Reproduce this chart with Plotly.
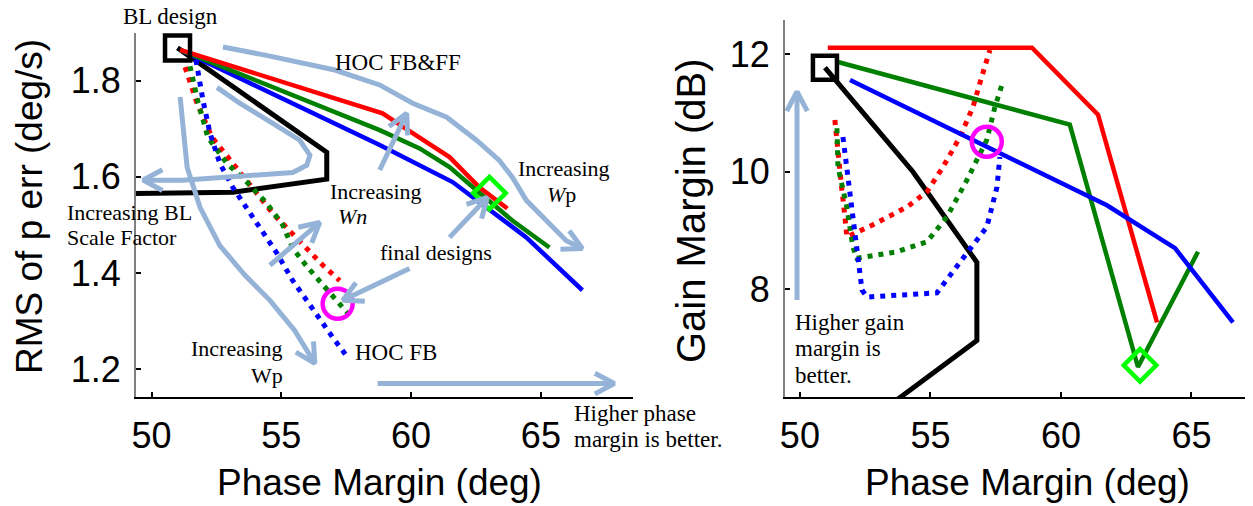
import math
import plotly.graph_objects as go

W, H = 1253, 506

# ---------------- Left panel: phase margin vs RMS of p err ----------------
pm_range_l = [49.40, 68.55]
rms_range = [1.142, 1.899]

bl_pm = [51.0, 56.75, 56.75, 53.14, 49.2]
bl_rms = [1.868, 1.651, 1.595, 1.568, 1.565]

ff_red_pm = [51.1, 58.9, 60.06, 61.48, 62.63, 63.71]
ff_red_rms = [1.864, 1.732, 1.691, 1.641, 1.578, 1.534]
ff_green_pm = [51.1, 58.79, 60.33, 61.48, 62.52, 63.9, 65.33]
ff_green_rms = [1.864, 1.697, 1.659, 1.620, 1.572, 1.509, 1.453]
ff_blue_pm = [51.1, 58.79, 61.6, 62.52, 64.44, 66.6]
ff_blue_rms = [1.864, 1.666, 1.589, 1.551, 1.474, 1.364]

fb_red_pm = [51.29, 51.75, 52.33, 53.02, 53.9, 54.67, 55.44, 56.02, 56.6, 57.25]
fb_red_rms = [1.828, 1.753, 1.682, 1.634, 1.576, 1.524, 1.482, 1.447, 1.416, 1.384]
fb_green_pm = [51.48, 51.79, 52.17, 52.9, 53.67, 54.44, 55.06, 55.44, 56.02, 56.56, 57.17, 57.71]
fb_green_rms = [1.830, 1.755, 1.682, 1.628, 1.589, 1.545, 1.499, 1.451, 1.411, 1.378, 1.339, 1.307]
fb_blue_pm = [51.71, 51.98, 52.25, 52.63, 53.13, 53.79, 54.29, 54.83, 55.44, 55.98, 56.48, 56.98, 57.56]
fb_blue_rms = [1.843, 1.759, 1.691, 1.628, 1.578, 1.524, 1.482, 1.441, 1.384, 1.343, 1.301, 1.266, 1.224]

bl_mark_l = (51.0, 1.868)
fb_final_l = (57.17, 1.336)
ff_final_l = (63.02, 1.566)

# ---------------- Right panel: phase margin vs gain margin ----------------
pm_range_r = [49.43, 67.05]
gm_range = [6.17, 12.58]

bl_gm_pm = [50.96, 54.33, 56.78, 56.78, 53.5]
bl_gm = [11.77, 10.0, 8.46, 7.13, 6.05]

ff_red_gm_pm = [51.07, 58.89, 61.42, 63.68]
ff_red_gm = [12.11, 12.11, 10.97, 7.44]
ff_green_gm_pm = [51.42, 60.34, 62.95, 65.25]
ff_green_gm = [11.87, 10.80, 6.68, 8.64]
ff_blue_gm_pm = [51.92, 61.76, 64.37, 66.59]
ff_blue_gm = [11.56, 9.43, 8.70, 7.44]

fb_red_gm_pm = [51.34, 51.46, 51.61, 51.72, 51.8, 52.8, 54.1, 54.87, 55.48, 56.13, 56.63, 57.01, 57.28]
fb_red_gm = [10.88, 10.28, 9.69, 9.26, 8.89, 9.1, 9.40, 9.66, 10.08, 10.59, 11.10, 11.68, 12.07]
fb_green_gm_pm = [51.42, 51.46, 51.8, 52.03, 52.18, 53.72, 54.87, 55.63, 56.4, 57.16, 57.47, 57.74]
fb_green_gm = [10.74, 10.08, 9.40, 8.72, 8.53, 8.64, 8.81, 9.23, 9.86, 10.54, 11.10, 11.48]
fb_blue_gm_pm = [51.65, 51.8, 51.99, 52.18, 52.38, 52.57, 55.25, 56.4, 57.16, 57.55, 57.66]
fb_blue_gm = [10.59, 10.08, 9.40, 8.79, 7.99, 7.87, 7.94, 8.62, 9.06, 9.74, 10.25]

bl_mark_r = (50.96, 11.77)
fb_final_r = (57.16, 10.51)
ff_final_r = (63.03, 6.71)

# ---------------- Hand-drawn guide strokes (light blue) ----------------
guide_ff_pm = [52.75, 54.56, 57.06, 58.79, 60.06, 61.37, 62.52, 63.40, 63.90, 64.44, 65.21, 65.98, 66.6]
guide_ff_rms = [1.870, 1.851, 1.822, 1.791, 1.753, 1.724, 1.676, 1.634, 1.599, 1.551, 1.509, 1.467, 1.451]
guide_bl_pm = [52.52, 53.40, 54.67, 55.71, 56.10, 55.98, 55.44, 53.13, 51.21, 49.67]
guide_bl_rms = [1.786, 1.753, 1.711, 1.676, 1.645, 1.624, 1.609, 1.599, 1.593, 1.593]
guide_wp_pm = [51.10, 51.21, 51.37, 51.87, 52.63, 53.60, 54.56, 55.52, 56.29]
guide_wp_rms = [1.766, 1.697, 1.620, 1.536, 1.457, 1.395, 1.343, 1.280, 1.212]
guide_wn1_pm = [54.56, 56.48]
guide_wn1_rms = [1.416, 1.505]
guide_wn2_pm = [58.79, 59.83]
guide_wn2_rms = [1.614, 1.732]
guide_fin1_pm = [59.94, 57.37]
guide_fin1_rms = [1.409, 1.343]
guide_fin2_pm = [61.48, 62.94]
guide_fin2_rms = [1.474, 1.557]
guide_phase_pm = [58.71, 67.83]
guide_phase_rms = [1.170, 1.170]
guide_gain_pm = [49.89, 49.89]
guide_gain_gm = [7.82, 11.36]

# Plot-area placement in pixels (left, right, top, bottom)
box_l = (136, 633, 33, 397)
box_r = (785, 1245, 20, 397)

GUIDE = "#95B3D7"
RED, GREEN, BLUE = "#FF0000", "#008000", "#0000FF"
DOTS = "5px,6px"

fig = go.Figure()


def line(x, y, color, width=4.5, dash="solid", axes=1):
    fig.add_trace(go.Scatter(
        x=x, y=y, mode="lines", line=dict(color=color, width=width, dash=dash),
        xaxis="x" if axes == 1 else "x2", yaxis="y" if axes == 1 else "y2",
        showlegend=False, hoverinfo="skip"))


def marker(pt, symbol, color, size, axes=1):
    fig.add_trace(go.Scatter(
        x=[pt[0]], y=[pt[1]], mode="markers",
        marker=dict(symbol=symbol, size=size, color=color,
                    line=dict(color=color, width=4.5)),
        xaxis="x" if axes == 1 else "x2", yaxis="y" if axes == 1 else "y2",
        showlegend=False, hoverinfo="skip", cliponaxis=False))


def arrow_head(x, y, xr, yr, box, axes=1, length=22, spread=28):
    """Open V arrowhead at the last point of a stroke, built in screen space."""
    sx = (box[1] - box[0]) / (xr[1] - xr[0])
    sy = (box[3] - box[2]) / (yr[1] - yr[0])
    tx, ty = x[-1], y[-1]
    dx = (x[-2] - tx) * sx
    dy = -(y[-2] - ty) * sy
    ang = math.atan2(dy, dx)
    hx, hy = [], []
    for s in (spread, -spread):
        a = ang + math.radians(s)
        hx.append(tx + length * math.cos(a) / sx)
        hy.append(ty - length * math.sin(a) / sy)
    line([hx[0], tx, hx[1]], [hy[0], ty, hy[1]], GUIDE, width=5, axes=axes)


# left panel
line(bl_pm, bl_rms, "black", width=5)
line(fb_red_pm, fb_red_rms, RED, width=5, dash=DOTS)
line(fb_green_pm, fb_green_rms, GREEN, width=5, dash=DOTS)
line(fb_blue_pm, fb_blue_rms, BLUE, width=5, dash=DOTS)
line(ff_blue_pm, ff_blue_rms, BLUE)
line(ff_green_pm, ff_green_rms, GREEN)
line(ff_red_pm, ff_red_rms, RED)
marker(bl_mark_l, "square-open", "black", 25)
marker(fb_final_l, "circle-open", "#FF00FF", 30)
marker(ff_final_l, "diamond-open", "#00FF00", 25)

# right panel
line(bl_gm_pm, bl_gm, "black", width=5, axes=2)
line(fb_red_gm_pm, fb_red_gm, RED, width=5, dash=DOTS, axes=2)
line(fb_green_gm_pm, fb_green_gm, GREEN, width=5, dash=DOTS, axes=2)
line(fb_blue_gm_pm, fb_blue_gm, BLUE, width=5, dash=DOTS, axes=2)
line(ff_red_gm_pm, ff_red_gm, RED, axes=2)
line(ff_green_gm_pm, ff_green_gm, GREEN, axes=2)
line(ff_blue_gm_pm, ff_blue_gm, BLUE, axes=2)
marker(bl_mark_r, "square-open", "black", 24, axes=2)
marker(fb_final_r, "circle-open", "#FF00FF", 30, axes=2)
marker(ff_final_r, "diamond-open", "#00FF00", 25, axes=2)

# guide strokes with arrowheads
for gx, gy in [(guide_ff_pm, guide_ff_rms), (guide_bl_pm, guide_bl_rms),
               (guide_wp_pm, guide_wp_rms), (guide_wn1_pm, guide_wn1_rms),
               (guide_wn2_pm, guide_wn2_rms), (guide_fin1_pm, guide_fin1_rms),
               (guide_fin2_pm, guide_fin2_rms), (guide_phase_pm, guide_phase_rms)]:
    line(gx, gy, GUIDE, width=5)
    arrow_head(gx, gy, pm_range_l, rms_range, box_l)
line(guide_gain_pm, guide_gain_gm, GUIDE, width=5, axes=2)
arrow_head(guide_gain_pm, guide_gain_gm, pm_range_r, gm_range, box_r, axes=2)


def dom_x(box):
    return [box[0] / W, box[1] / W]


def dom_y(box):
    return [1 - box[3] / H, 1 - box[2] / H]


tickfont = dict(family="Liberation Sans, Arial, sans-serif", size=36, color="black")
common = dict(showgrid=False, zeroline=False, ticks="inside", ticklen=5, tickwidth=2,
              tickcolor="black", tickfont=tickfont, showline=True, automargin=False,
              fixedrange=True, mirror=False)

fig.update_layout(
    width=W, height=H, margin=dict(l=0, r=0, t=0, b=0),
    paper_bgcolor="white", plot_bgcolor="white",
    xaxis=dict(domain=dom_x(box_l), range=pm_range_l, anchor="y", tickvals=[50, 55, 60, 65],
               linecolor="black", linewidth=2, ticklabelstandoff=6, **common),
    yaxis=dict(domain=dom_y(box_l), range=rms_range, anchor="x", tickvals=[1.2, 1.4, 1.6, 1.8],
               linecolor="#808080", linewidth=2, ticklabelstandoff=6, **common),
    xaxis2=dict(domain=dom_x(box_r), range=pm_range_r, anchor="y2", tickvals=[50, 55, 60, 65],
                linecolor="black", linewidth=2, ticklabelstandoff=6, **common),
    yaxis2=dict(domain=dom_y(box_r), range=gm_range, anchor="x2", tickvals=[8, 10, 12],
                linecolor="#808080", linewidth=2, ticklabelstandoff=6, **common),
)

SANS = "Liberation Sans, Arial, sans-serif"
SERIF = "Liberation Serif, Times New Roman, serif"


def text(s, px, py, size=22, xanchor="center", font=SERIF, angle=0):
    fig.add_annotation(text=s, x=px / W, y=1 - py / H, xref="paper", yref="paper",
                       xanchor=xanchor, yanchor="middle", showarrow=False, textangle=angle,
                       font=dict(family=font, size=size, color="black"))


# axis titles
text("Phase Margin (deg)", 379, 482, size=37, font=SANS)
text("Phase Margin (deg)", 1027, 482, size=37, font=SANS)
text("RMS of p err (deg/s)", 29, 207, size=37, font=SANS, angle=-90)
text("Gain Margin (dB)", 691, 211, size=40, font=SANS, angle=-90)

# callouts
text("BL design", 170, 16, size=23)
text("HOC FB&FF", 398, 63, size=23)
text("Increasing", 376, 191)
text("<i>Wn</i>", 352, 217)
text("Increasing", 564, 168)
text("<i>W</i>p", 561, 194)
text("final designs", 436, 252)
text("Increasing BL", 65, 212, xanchor="left")
text("Scale Factor", 65, 238, xanchor="left")
text("Increasing", 285, 348, xanchor="right")
text("Wp", 285, 375, xanchor="right")
text("HOC FB", 353, 352, size=23, xanchor="left")
text("Higher phase", 572, 413, size=23, xanchor="left")
text("margin is better.", 572, 439, size=23, xanchor="left")
text("Higher gain", 793, 322, size=23, xanchor="left")
text("margin is", 793, 348, size=23, xanchor="left")
text("better.", 793, 375, size=23, xanchor="left")

fig.write_html("out.html")
